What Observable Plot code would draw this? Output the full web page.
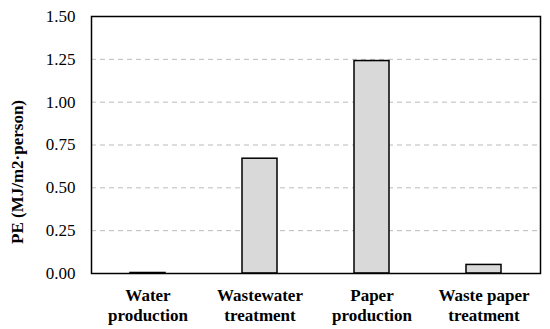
<!DOCTYPE html>
<html>
<head>
<meta charset="utf-8">
<script src="https://cdn.jsdelivr.net/npm/d3@7"></script>
<script src="https://cdn.jsdelivr.net/npm/@observablehq/plot@0.6"></script>
<style>
  html, body { margin: 0; padding: 0; background: #fff; }
  #chart svg { display: block; }
</style>
</head>
<body>
<div id="chart"></div>
<script>
const categories = ["Water production", "Wastewater treatment", "Paper production", "Waste paper treatment"];
const categoryLabels = ["Water\nproduction", "Wastewater\ntreatment", "Paper\nproduction", "Waste paper\ntreatment"];
const values = [0.003, 0.67, 1.24, 0.05];
const yTicks = [0, 0.25, 0.5, 0.75, 1.0, 1.25, 1.5];
const yLabel = "PE (MJ/m2·person)";

const data = categories.map((c, i) => ({category: c, value: values[i]}));
const labelOf = new Map(categories.map((c, i) => [c, categoryLabels[i]]));

const chart = Plot.plot({
  width: 550,
  height: 329,
  marginLeft: 91,
  marginRight: 10,
  marginTop: 16,
  marginBottom: 56,
  style: {fontFamily: "'Liberation Serif', 'DejaVu Serif', serif", fontSize: "17px", color: "#000", background: "#fff"},
  x: {domain: categories, paddingInner: 0.688, paddingOuter: 0.344, align: 0.5},
  y: {domain: [0, 1.5]},
  marks: [
    Plot.gridY(yTicks, {stroke: "#bbb", strokeOpacity: 1, strokeDasharray: "5,4", strokeWidth: 1}),
    Plot.barY(data, {x: "category", y: "value", fill: "#d9d9d9", stroke: "#000", strokeWidth: 1.5}),
    Plot.frame({stroke: "#000", strokeWidth: 1.5}),
    Plot.axisY(yTicks, {tickSize: 0, tickPadding: 16, tickFormat: d => d.toFixed(2), label: null, fontSize: 17}),
    Plot.axisX({tickSize: 0, tickPadding: 14, tickFormat: d => labelOf.get(d), label: null, fontWeight: "bold", fontSize: 17, lineHeight: 1.15}),
    Plot.text([yLabel], {frameAnchor: "left", textAnchor: "middle", text: d => d, rotate: -90, dx: -74, dy: 27, fontWeight: "bold", fontSize: 17})
  ]
});
document.getElementById("chart").appendChild(chart);
</script>
</body>
</html>
